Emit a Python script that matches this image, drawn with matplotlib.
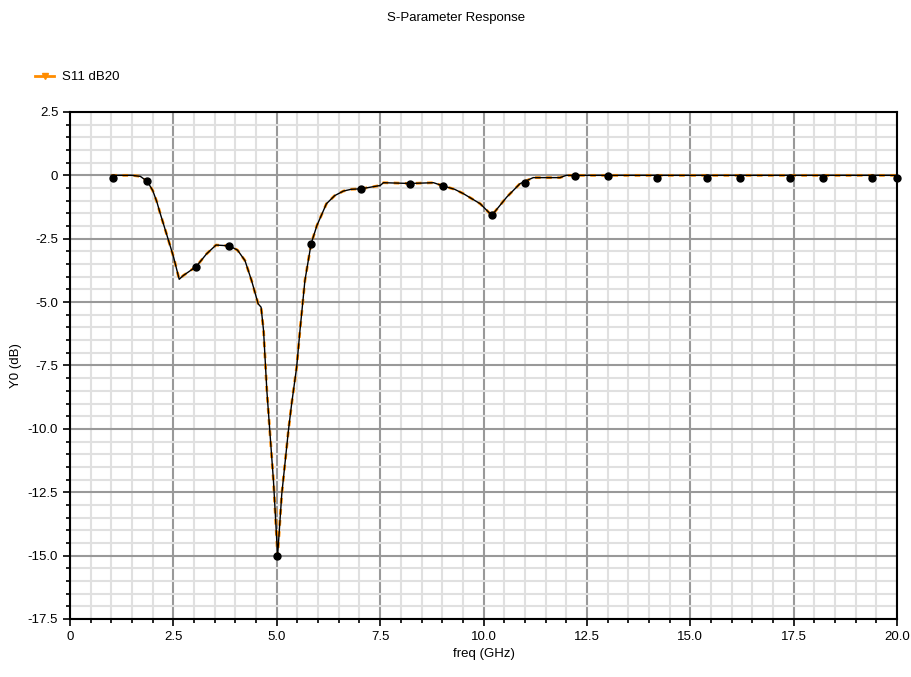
import numpy as np
import matplotlib
matplotlib.use("Agg")
import matplotlib.pyplot as plt
from matplotlib.ticker import MultipleLocator
from matplotlib.lines import Line2D

plt.rcParams['font.family'] = ['Liberation Sans Narrow', 'Liberation Sans', 'DejaVu Sans']

# S11 trace (GHz, dB)
freq = [1.0, 1.5, 1.7, 1.87, 2.0, 2.1, 2.18, 2.35, 2.5, 2.64, 2.74, 3.05, 3.3, 3.53, 3.85,
        4.05, 4.23, 4.39, 4.55, 4.62, 4.68, 4.76, 4.92, 5.02, 5.12, 5.28, 5.36,
        5.48, 5.56, 5.68, 5.83, 5.97, 6.2, 6.4, 6.61, 6.8, 7.04, 7.5, 7.58, 8.22,
        8.79, 9.03, 9.3, 9.51, 9.92, 10.2, 10.56, 10.88, 11.2, 11.85, 12.0,
        13.0, 15.0, 17.5, 20.0]
s11 = [0.0, 0.0, -0.04, -0.24, -0.6, -1.05, -1.5, -2.4, -3.2, -4.1, -3.95, -3.6, -3.1, -2.75, -2.78,
       -2.95, -3.36, -4.15, -5.07, -5.2, -6.13, -8.5, -12.06, -15.0, -12.58, -10.08, -9.0,
       -7.57, -6.13, -4.15, -2.7, -1.98, -1.12, -0.8, -0.62, -0.55, -0.53, -0.4, -0.29, -0.32,
       -0.29, -0.42, -0.55, -0.72, -1.12, -1.58, -0.86, -0.33, -0.09, -0.09, 0.0,
       0.0, 0.0, 0.0, 0.0]

# marker points
mk_freq = [1.05, 1.85, 3.05, 3.85, 5.0, 5.83, 7.04, 8.22, 9.03, 10.2, 11.0,
           12.2, 13.0, 14.2, 15.4, 16.2, 17.4, 18.2, 19.4, 20.0]
mk_s11 = [-0.09, -0.24, -3.6, -2.78, -15.0, -2.7, -0.53, -0.36, -0.42, -1.58, -0.3,
          -0.04, -0.04, -0.09, -0.09, -0.09, -0.09, -0.09, -0.09, -0.09]

fig = plt.figure(figsize=(9.12, 6.77), dpi=100)
ax = fig.add_axes([0.0768, 0.0857, 0.9068, 0.7489])

ax.plot(freq, s11, color='#ff8c00', lw=2.0, ls=(0, (2, 2)), zorder=3)
ax.plot(freq, s11, color='black', lw=1.0, zorder=4)
ax.plot(mk_freq, mk_s11, 'o', color='black', ms=5, zorder=5, clip_on=False)

ax.set_xlim(0, 20)
ax.set_ylim(-17.5, 2.5)
ax.xaxis.set_minor_locator(MultipleLocator(0.5))
ax.yaxis.set_minor_locator(MultipleLocator(0.5))
ax.set_xticks(np.arange(0, 20.01, 2.5))
ax.set_xticklabels(['0', '2.5', '5.0', '7.5', '10.0', '12.5', '15.0', '17.5', '20.0'])
ax.set_yticks(np.arange(-17.5, 2.51, 2.5))
ax.set_yticklabels(['-17.5', '-15.0', '-12.5', '-10.0', '-7.5', '-5.0', '-2.5', '0', '2.5'])

ax.grid(which='minor', color='#e0e0e0', lw=1.5, zorder=0)
ax.grid(which='major', color='#999999', lw=1.5, zorder=1)
ax.set_axisbelow(True)

ax.tick_params(which='major', direction='out', length=5, width=1.2, labelsize=9.5)
ax.tick_params(which='minor', direction='out', length=3, width=1.2)
for s in ax.spines.values():
    s.set_linewidth(1.5)
    s.set_color('black')

ax.set_xlabel('freq (GHz)', fontsize=9.5, labelpad=4)
ax.set_ylabel('Y0 (dB)', fontsize=9.5, labelpad=4)
fig.text(0.5, 0.973, 'S-Parameter Response', ha='center', va='center', fontsize=9.5)

h = Line2D([], [], color='#ff8c00', lw=2, marker='v', ms=5)
fig.legend([h], ['S11 dB20'], loc='center left', bbox_to_anchor=(0.025, 0.886),
           frameon=False, fontsize=9.5, handlelength=1.5, handletextpad=0.6)

fig.savefig('out.png', dpi=100)
